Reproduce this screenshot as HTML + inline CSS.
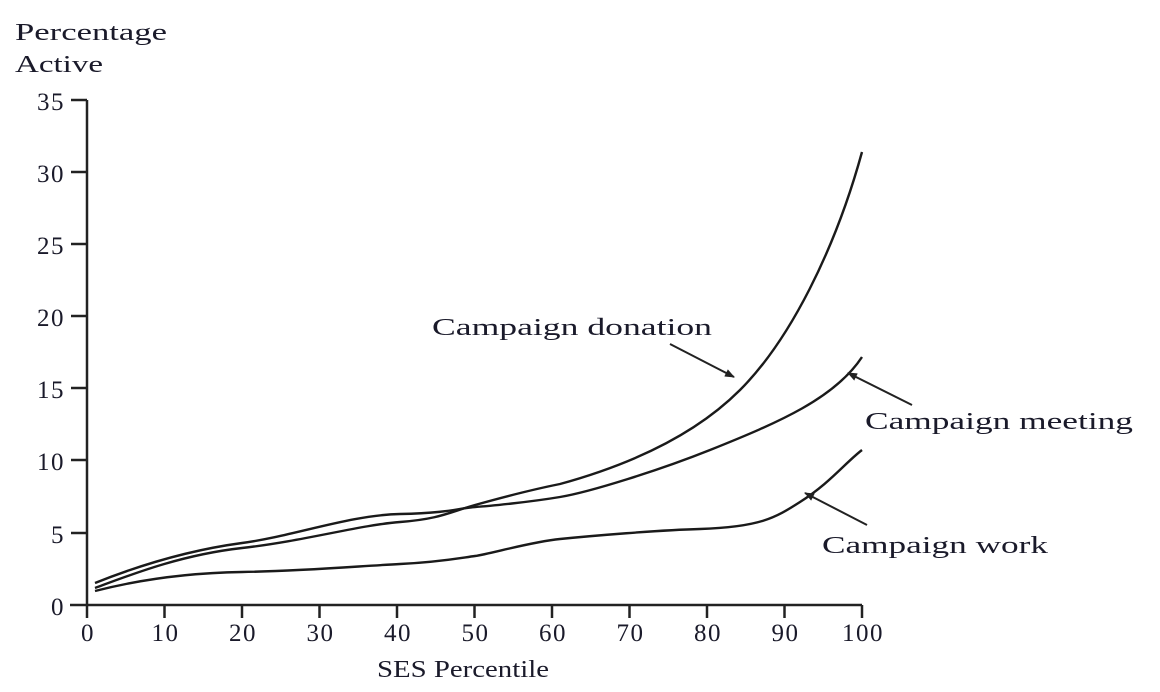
<!DOCTYPE html>
<html><head><style>
html,body{margin:0;padding:0;background:#fff;}
svg{display:block;}
text{font-family:"Liberation Serif",serif;fill:#1a1a2a;}
</style></head><body>
<svg width="1160" height="692" viewBox="0 0 1160 692" xmlns="http://www.w3.org/2000/svg">
<defs><marker id="ah" markerWidth="10" markerHeight="8" refX="9" refY="4" orient="auto" markerUnits="userSpaceOnUse"><path d="M0,0 L10,4 L0,8 Z" fill="#222"/></marker></defs>
<g stroke="#222" stroke-width="2.5" fill="none">
<line x1="87" y1="100" x2="87" y2="606"/>
<line x1="70" y1="605" x2="862" y2="605"/>
<line x1="71" y1="100" x2="87" y2="100"/>
<line x1="71" y1="172" x2="87" y2="172"/>
<line x1="71" y1="244" x2="87" y2="244"/>
<line x1="71" y1="316" x2="87" y2="316"/>
<line x1="71" y1="388" x2="87" y2="388"/>
<line x1="71" y1="460" x2="87" y2="460"/>
<line x1="71" y1="533" x2="87" y2="533"/>
<g>
<line x1="87" y1="605" x2="87" y2="618"/><line x1="164.5" y1="605" x2="164.5" y2="618"/><line x1="242" y1="605" x2="242" y2="618"/><line x1="319.5" y1="605" x2="319.5" y2="618"/><line x1="397" y1="605" x2="397" y2="618"/><line x1="474.5" y1="605" x2="474.5" y2="618"/><line x1="552" y1="605" x2="552" y2="618"/><line x1="629.5" y1="605" x2="629.5" y2="618"/><line x1="707" y1="605" x2="707" y2="618"/><line x1="784.5" y1="605" x2="784.5" y2="618"/><line x1="862" y1="605" x2="862" y2="618"/>
</g>
</g>
<g stroke="#1a1a1a" stroke-width="2.4" fill="none" stroke-linejoin="round">
<path d="M95,588 C130,575 180,555 242,548 S360,525 400,522 S450,512 475,505 S530,490 560,484 C640,462 700,430 740,390 C790,340 835,250 862,152"/>
<path d="M95,583 C140,565 190,550 242,543 S350,515 400,514 S460,508 475,507 S530,502 560,497 S660,470 710,450 C780,422 835,398 862,357"/>
<path d="M95,591 C130,582 180,573 242,572 S360,566 400,564 S460,558 475,556 S530,542 560,539 S660,530 700,529 C760,527 775,518 800,502 C830,483 845,463 862,450"/>
</g>
<g stroke="#222" stroke-width="2" fill="none" marker-end="url(#ah)">
<line x1="670" y1="344" x2="734" y2="377"/>
<line x1="912" y1="405" x2="848" y2="373"/>
<line x1="867" y1="525" x2="805" y2="493"/>
</g>
<g font-size="25" text-anchor="end" letter-spacing="1.5">
<text x="65" y="110">35</text><text x="65" y="182">30</text><text x="65" y="254">25</text><text x="65" y="326">20</text><text x="65" y="398">15</text><text x="65" y="470">10</text><text x="65" y="543">5</text><text x="65" y="615">0</text>
</g>
<g font-size="25" text-anchor="middle" letter-spacing="1.5">
<text x="88" y="641">0</text><text x="165.5" y="641">10</text><text x="243" y="641">20</text><text x="320.5" y="641">30</text><text x="398" y="641">40</text><text x="475.5" y="641">50</text><text x="553" y="641">60</text><text x="630.5" y="641">70</text><text x="708" y="641">80</text><text x="785.5" y="641">90</text><text x="863" y="641">100</text>
</g>
<g font-size="24">
<text x="15" y="40" textLength="152" lengthAdjust="spacingAndGlyphs">Percentage</text>
<text x="15" y="72" textLength="88" lengthAdjust="spacingAndGlyphs">Active</text>
<text x="377" y="677" textLength="172" lengthAdjust="spacingAndGlyphs">SES Percentile</text>
<text x="432" y="335" textLength="280" lengthAdjust="spacingAndGlyphs">Campaign donation</text>
<text x="865" y="429" textLength="268" lengthAdjust="spacingAndGlyphs">Campaign meeting</text>
<text x="822" y="553" textLength="226" lengthAdjust="spacingAndGlyphs">Campaign work</text>
</g>
</svg>
</body></html>
